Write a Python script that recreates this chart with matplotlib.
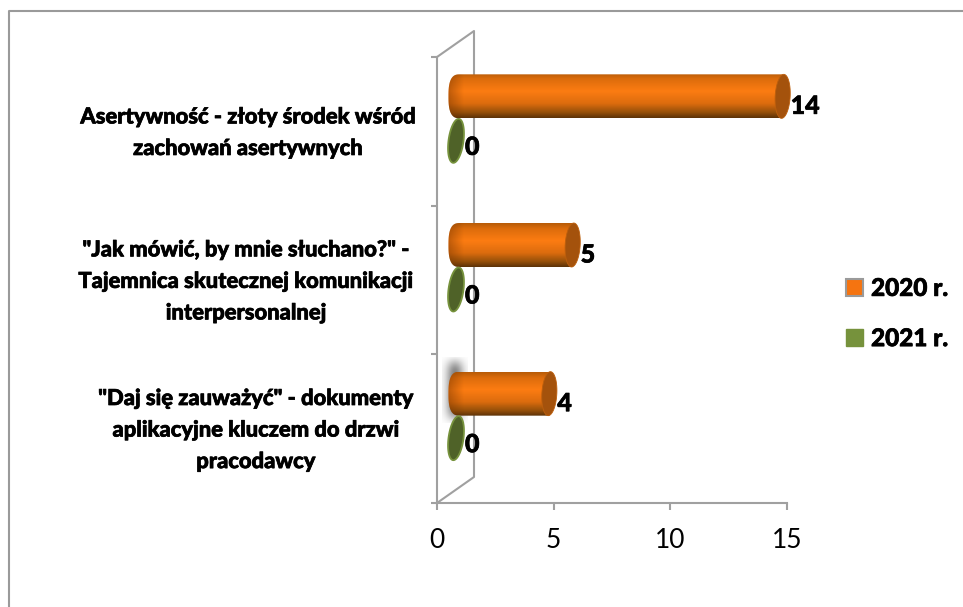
import matplotlib
matplotlib.use('Agg')
import matplotlib.pyplot as plt
import matplotlib.patheffects as pe
import numpy as np
from matplotlib.colors import LinearSegmentedColormap
from matplotlib.lines import Line2D
from matplotlib.patches import Patch, PathPatch, Polygon
from matplotlib.path import Path

categories = ['Asertywność - złoty środek wśród\nzachowań asertywnych',
              '"Jak mówić, by mnie słuchano?" -\nTajemnica skutecznej komunikacji\ninterpersonalnej',
              '"Daj się zauważyć" - dokumenty\naplikacyjne kluczem do drzwi\npracodawcy']
y_cat = [2.5, 1.5, 0.5]
values_2020 = [14, 5, 4]
values_2021 = [0, 0, 0]
series_names = ['2020 r.', '2021 r.']
x_ticks = [0, 5, 10, 15]

plt.rcParams['font.family'] = ['Lato', 'DejaVu Sans']
GREY = '#a0a0a0'
W, H = 963, 607
fig = plt.figure(figsize=(W / 100, H / 100), dpi=100)
ax = fig.add_axes([437 / W, 1 - 503 / H, 350 / W, 446 / H])
ax.set_xlim(0, 15)
ax.set_ylim(0, 3)
sx = 15 / 350  # data units per pixel
sy = 3 / 446
heavy = [pe.withStroke(linewidth=0.5, foreground='black')]

# frame round the picture
fig.add_artist(Line2D([9 / W, 9 / W, 1], [0, 1 - 11 / H, 1 - 11 / H], color='#9a9a9a', lw=1.5))

# axes and back wall of the 3d box
for s in ['top', 'right']:
    ax.spines[s].set_visible(False)
for s in ['left', 'bottom']:
    ax.spines[s].set_color(GREY)
    ax.spines[s].set_linewidth(1.5)
ax.set_xticks(x_ticks)
ax.set_yticks([0, 1, 2, 3])
ax.set_yticklabels([])
ax.tick_params(axis='x', length=5, width=1.5, color=GREY, labelsize=19, pad=13)
ax.tick_params(axis='y', length=4, width=1.5, color=GREY)
dx, dy = 37 * sx, 26 * sy
ax.plot([0, dx, dx, 0], [3, 3 + dy, dy, 0], color=GREY, lw=1.5, clip_on=False, zorder=1)


def end_shape(xc, yc, hw, hh, p=2.0, tilt=0.12, n=80):
    # closed end of the cylinder, outline in data units
    t = np.linspace(0, 2 * np.pi, n)
    px = hw * np.sign(np.cos(t)) * np.abs(np.cos(t)) ** (2 / p)
    py = hh * np.sign(np.sin(t)) * np.abs(np.sin(t)) ** (2 / p)
    return np.c_[xc + (px + tilt * py) * sx, yc + py * sy]


off_x = 19 * sx
hh = 22
orange_map = LinearSegmentedColormap.from_list('o', [(0, '#b85c08'), (0.12, '#dc6c0c'), (0.4, '#fc7c12'),
                                                     (0.68, '#dc6c0e'), (0.88, '#96500a'), (1, '#5e3308')])

# grey smudge behind the lowest bar
gx, gy = np.meshgrid(np.linspace(-1, 1, 40), np.linspace(-1, 1, 60))
smudge = np.zeros((60, 40, 4))
smudge[..., :3] = 0.5
smudge[..., 3] = np.exp(-(gx ** 2 * 2.2 + gy ** 6 * 2))
cx, cy = off_x - 1 * sx, y_cat[2] + 39 * sy
ax.imshow(smudge, extent=[cx - 13 * sx, cx + 13 * sx, cy - 33 * sy, cy + 33 * sy], aspect='auto', zorder=2)

for yc, v in zip(y_cat, values_2020):
    y0 = yc + 35 * sy
    xe = v + off_x
    xl = off_x + 4 * sx
    left = end_shape(xl, y0, 11.5, hh, p=2.8, tilt=0)
    left = left[(left[:, 0] <= xl)]
    left = left[np.argsort(np.arctan2(left[:, 1] - y0, left[:, 0] - xl) % (2 * np.pi))]
    pts = np.vstack([[[xe, y0 + hh * sy]], left, [[xe, y0 - hh * sy]]])
    clip = PathPatch(Path(np.vstack([pts, pts[:1]])), transform=ax.transData, fc='none', ec='none')
    ax.add_patch(clip)
    grad = np.linspace(0, 1, 64).reshape(-1, 1)
    im = ax.imshow(grad, extent=[off_x - 8 * sx, xe, y0 - hh * sy, y0 + hh * sy], aspect='auto',
                   cmap=orange_map, origin='upper', zorder=3)
    im.set_clip_path(clip)
    # darker towards the closed left end
    shade = np.zeros((1, 32, 4))
    shade[..., 0:3] = [0.45, 0.2, 0.0]
    shade[..., 3] = np.linspace(0.45, 0, 32)
    im2 = ax.imshow(shade, extent=[off_x - 8 * sx, off_x + 8 * sx, y0 - hh * sy, y0 + hh * sy], aspect='auto', zorder=3)
    im2.set_clip_path(clip)
    ax.add_patch(Polygon(end_shape(xe, y0, 7.5, hh, tilt=0.05), fc='#a4520c', ec='#bd5f0c', lw=0.6,
                         clip_on=False, zorder=4))
    ax.annotate(str(v), (v, y0), xytext=(27 / 1.389, -10 / 1.389), textcoords='offset points',
                fontsize=18, fontweight='black', va='center', ha='left', annotation_clip=False, path_effects=heavy)

for yc, v in zip(y_cat, values_2021):
    y0 = yc - 9.5 * sy
    ax.add_patch(Polygon(end_shape(v + off_x, y0, 7.5, hh), fc='#4f6228', ec='#76923c', lw=1.3,
                         clip_on=False, zorder=4))
    ax.annotate(str(v), (v, y0), xytext=(28 / 1.389, -6.5 / 1.389), textcoords='offset points',
                fontsize=18, fontweight='black', va='center', ha='left', annotation_clip=False, path_effects=heavy)

ax.set_xlim(0, 15)
ax.set_ylim(0, 3)

# category labels
label_x = [248, 246, 256]
for yc, lab, lx in zip(y_cat, categories, label_x):
    ax.annotate(lab, (0, yc), xytext=((lx - 437) / 1.389, -1), textcoords='offset points', ha='center', va='center',
                fontsize=15.8, fontweight='black', linespacing=1.62, annotation_clip=False, path_effects=heavy)

handles = [Patch(fc='#f57410', ec='#9a9a9a', lw=1.5), Patch(fc='#76923c', ec='#76923c')]
leg = ax.legend(handles, series_names, loc='center left', bbox_to_anchor=(846 / W, 1 - 313.5 / H),
                bbox_transform=fig.transFigure, frameon=False, prop={'size': 17.5, 'weight': 'black'},
                handlelength=0.7, handleheight=0.7, handletextpad=0.33, labelspacing=1.12, borderpad=0, borderaxespad=0)
for t in leg.get_texts():
    t.set_path_effects(heavy)

fig.savefig('out.png', dpi=100, facecolor='white')
